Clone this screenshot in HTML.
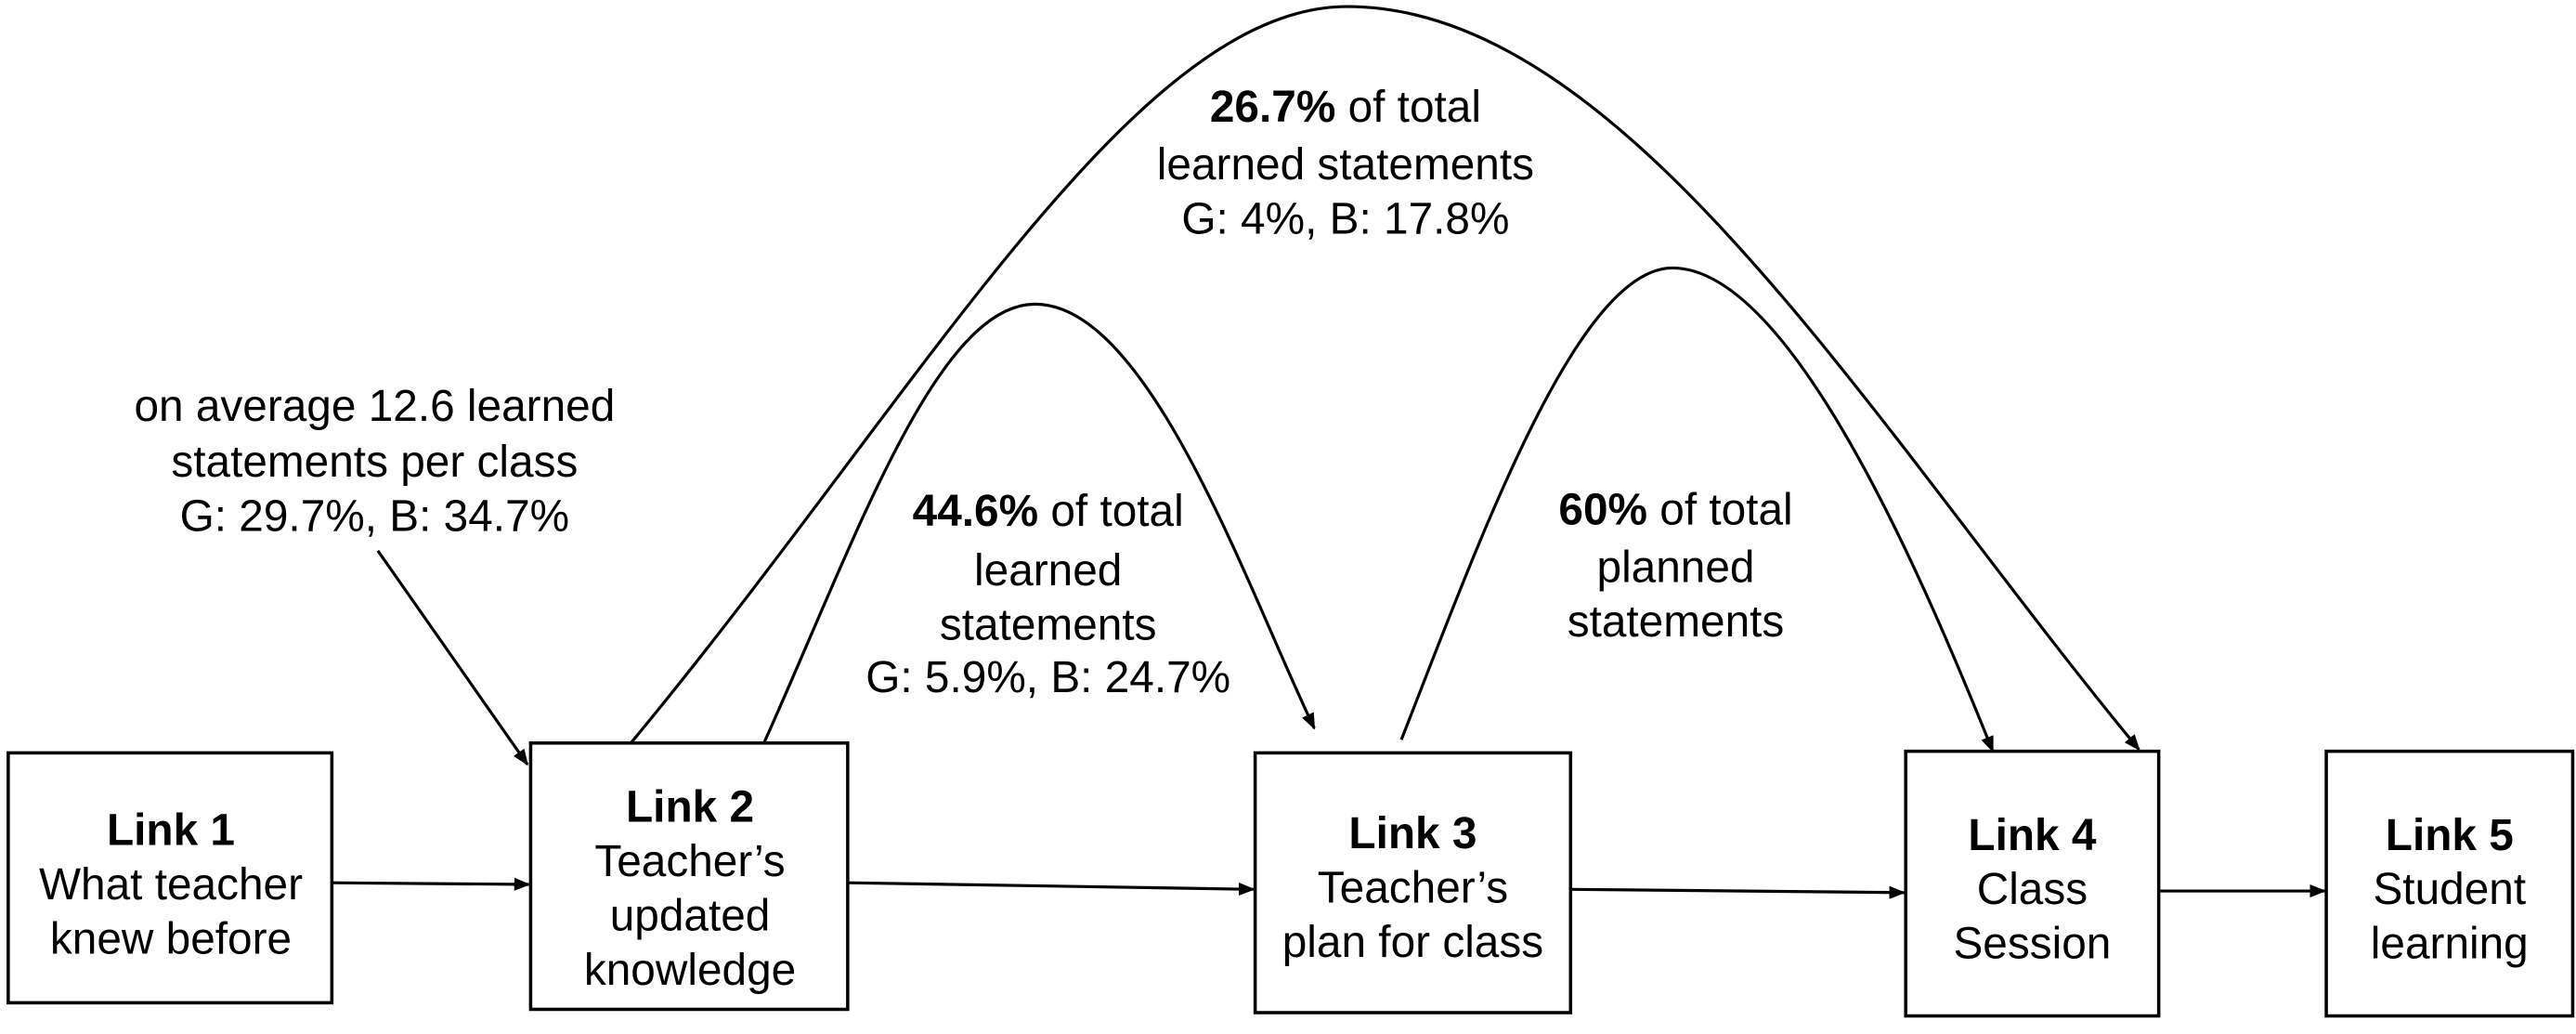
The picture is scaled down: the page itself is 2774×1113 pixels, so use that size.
<!DOCTYPE html>
<html><head><meta charset="utf-8"><style>
html,body{margin:0;padding:0;background:#fff;}
svg{display:block;}
text{font-family:"Liberation Sans",Arial,sans-serif;font-size:27px;fill:#000;}
</style></head><body>
<svg width="2774" height="1113" viewBox="0 0 1568 629" preserveAspectRatio="none" xmlns="http://www.w3.org/2000/svg">
<defs>
<marker id="ah" markerWidth="10" markerHeight="8" refX="9" refY="4" orient="auto" markerUnits="userSpaceOnUse">
<path d="M0,0 L10,4 L0,8 Z" fill="#000"/>
</marker>
</defs>
<g fill="#fff" stroke="#000" stroke-width="2">
<rect x="5" y="458" width="197" height="152"/>
<rect x="323" y="452" width="193" height="162"/>
<rect x="764" y="458" width="192" height="158"/>
<rect x="1160" y="457" width="154" height="161"/>
<rect x="1416" y="457" width="150" height="161"/>
</g>
<g stroke="#000" stroke-width="1.8" fill="none" marker-end="url(#ah)">
<line x1="202" y1="537" x2="322" y2="538"/>
<line x1="516" y1="537" x2="763" y2="541"/>
<line x1="956" y1="541" x2="1159" y2="543"/>
<line x1="1314" y1="542" x2="1415" y2="542"/>
<line x1="230" y1="335" x2="321" y2="465"/>
<path d="M384,452 C560,240 690,4 820,4 C990,4 1140,260 1302,456"/>
<path d="M465,452 C520,330 570,185 630,185 C700,185 760,360 800,443"/>
<path d="M853,450 C900,330 960,163 1018,163 C1090,163 1170,350 1213,457"/>
</g>
<g text-anchor="middle">
<text x="104" y="514" font-weight="bold">Link 1</text>
<text x="104" y="547">What teacher</text>
<text x="104" y="580">knew before</text>
<text x="420" y="500" font-weight="bold">Link 2</text>
<text x="420" y="533">Teacher’s</text>
<text x="420" y="566">updated</text>
<text x="420" y="599">knowledge</text>
<text x="860" y="516" font-weight="bold">Link 3</text>
<text x="860" y="549">Teacher’s</text>
<text x="860" y="582">plan for class</text>
<text x="1237" y="517" font-weight="bold">Link 4</text>
<text x="1237" y="550">Class</text>
<text x="1237" y="583">Session</text>
<text x="1491" y="517" font-weight="bold">Link 5</text>
<text x="1491" y="550">Student</text>
<text x="1491" y="583">learning</text>
<text x="228" y="256">on average 12.6 learned</text>
<text x="228" y="290">statements per class</text>
<text x="228" y="323">G: 29.7%, B: 34.7%</text>
<text x="819" y="74"><tspan font-weight="bold">26.7%</tspan> of total</text>
<text x="819" y="109">learned statements</text>
<text x="819" y="142">G: 4%, B: 17.8%</text>
<text x="638" y="320"><tspan font-weight="bold">44.6%</tspan> of total</text>
<text x="638" y="356">learned</text>
<text x="638" y="389">statements</text>
<text x="638" y="421">G: 5.9%, B: 24.7%</text>
<text x="1020" y="319"><tspan font-weight="bold">60%</tspan> of total</text>
<text x="1020" y="354">planned</text>
<text x="1020" y="387">statements</text>
</g>
</svg>
</body></html>
